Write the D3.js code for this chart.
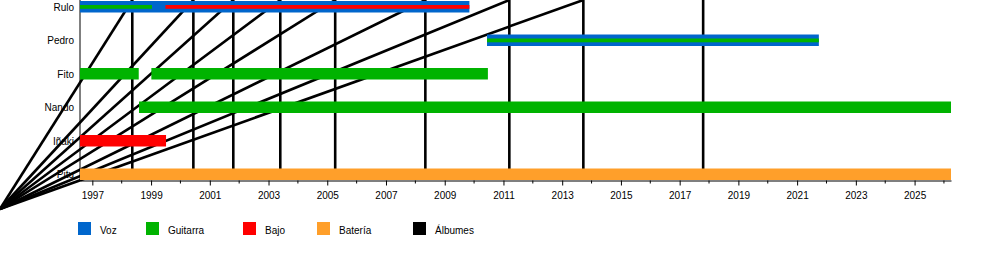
<!DOCTYPE html>
<html>
<head>
<meta charset="utf-8">
<script src="https://cdn.jsdelivr.net/npm/d3@7"></script>
<style>
body { margin: 0; background: #fff; }
svg { display: block; }
text { font-family: "Liberation Sans", Arial, sans-serif; font-size: 10px; fill: #000; }
</style>
</head>
<body>
<script>
// timeline period (decimal years)
var periodStart = 1996.58, periodEnd = 2026.24;

var members = ["Rulo", "Pedro", "Fito", "Nando", "Iñaki", "Pitu"];

var roles = ["Voz", "Guitarra", "Bajo", "Batería", "Álbumes"];
var roleColors = ["#0066cc", "#00b300", "#ff0000", "#ff9f2a", "#000000"];

// main bars: member, role, from, till
var mainBars = [
  ["Rulo", "Voz", periodStart, 2009.84],
  ["Pedro", "Voz", 2010.44, 2021.74],
  ["Fito", "Guitarra", periodStart, 1998.58],
  ["Fito", "Guitarra", 1999.01, 2010.47],
  ["Nando", "Guitarra", 1998.59, periodEnd],
  ["Iñaki", "Bajo", periodStart, 1999.51],
  ["Pitu", "Batería", periodStart, periodEnd]
];

// thin secondary bars drawn inside the main bars
var innerBars = [
  ["Rulo", "Guitarra", periodStart, 1999.03],
  ["Rulo", "Bajo", 1999.49, 2009.84],
  ["Pedro", "Guitarra", 2010.44, 2021.74]
];

// album release dates
var albums = [1998.36, 2000.44, 2001.80, 2003.40, 2005.27, 2008.34, 2011.20, 2013.72, 2017.80];

var tickYears = d3.range(1997, 2026, 2);
var minorYears = d3.range(1997, 2027, 1);

// legend layout
var legendX = [78, 146, 243, 317, 413];

var width = 1000, height = 260;
var plotLeft = 80, plotRight = 951, axisY = 180.5;

var svg = d3.select("body").append("svg")
    .attr("width", width)
    .attr("height", height);

var x = d3.scaleLinear().domain([periodStart, periodEnd]).range([plotLeft, plotRight]);
var y = d3.scalePoint().domain(members).range([7, 174.5]);
var color = d3.scaleOrdinal().domain(roles).range(roleColors);

// member labels
svg.append("g").selectAll("text")
    .data(members)
    .enter().append("text")
    .attr("x", plotLeft - 6)
    .attr("y", d => y(d))
    .attr("dy", "0.35em")
    .attr("text-anchor", "end")
    .text(d => d);

// album lines (drawn behind the bars)
var fanOrigin = [0, axisY + 28.5];
var albumG = svg.append("g")
    .attr("stroke", "#000")
    .attr("stroke-width", 2.6)
    .attr("fill", "none");

albumG.selectAll(".diag")
    .data(albums.slice(0, albums.length - 1))
    .enter().append("line")
    .attr("class", "diag")
    .attr("x1", fanOrigin[0])
    .attr("y1", fanOrigin[1])
    .attr("x2", d => x(d))
    .attr("y2", 0);

albumG.selectAll(".vert")
    .data(albums)
    .enter().append("line")
    .attr("class", "vert")
    .attr("x1", d => x(d))
    .attr("x2", d => x(d))
    .attr("y1", 0)
    .attr("y2", axisY - 8);

// left axis line
svg.append("line")
    .attr("x1", plotLeft).attr("x2", plotLeft)
    .attr("y1", 0).attr("y2", axisY)
    .attr("stroke", "#000").attr("stroke-width", 1);

// bars
svg.append("g").selectAll("rect")
    .data(mainBars)
    .enter().append("rect")
    .attr("x", d => x(d[2]))
    .attr("width", d => x(d[3]) - x(d[2]))
    .attr("y", d => y(d[0]) - 6)
    .attr("height", 11.5)
    .attr("fill", d => color(d[1]));

svg.append("g").selectAll("rect")
    .data(innerBars)
    .enter().append("rect")
    .attr("x", d => x(d[2]))
    .attr("width", d => x(d[3]) - x(d[2]))
    .attr("y", d => y(d[0]) - 2)
    .attr("height", 3.8)
    .attr("fill", d => color(d[1]));

// x axis
var axis = svg.append("g")
    .attr("transform", "translate(0," + axisY + ")")
    .call(d3.axisBottom(x)
        .tickValues(tickYears)
        .tickFormat(d3.format("d"))
        .tickSize(5)
        .tickSizeOuter(0));
axis.select(".domain").attr("stroke-width", 1.2);
axis.selectAll(".tick text")
    .attr("y", 11)
    .style("font-family", "'Liberation Sans', Arial, sans-serif")
    .style("font-size", "10px");

svg.append("g").selectAll("line")
    .data(minorYears.filter(d => tickYears.indexOf(d) < 0))
    .enter().append("line")
    .attr("x1", d => x(d)).attr("x2", d => x(d))
    .attr("y1", axisY).attr("y2", axisY + 3)
    .attr("stroke", "#000");

// legend
var legend = svg.append("g").selectAll("g")
    .data(roles)
    .enter().append("g")
    .attr("transform", (d, i) => "translate(" + legendX[i] + ",222)");
legend.append("rect")
    .attr("width", 13).attr("height", 13)
    .attr("fill", d => color(d));
legend.append("text")
    .attr("x", 22)
    .attr("y", 11.5)
    .text(d => d);
</script>
</body>
</html>
